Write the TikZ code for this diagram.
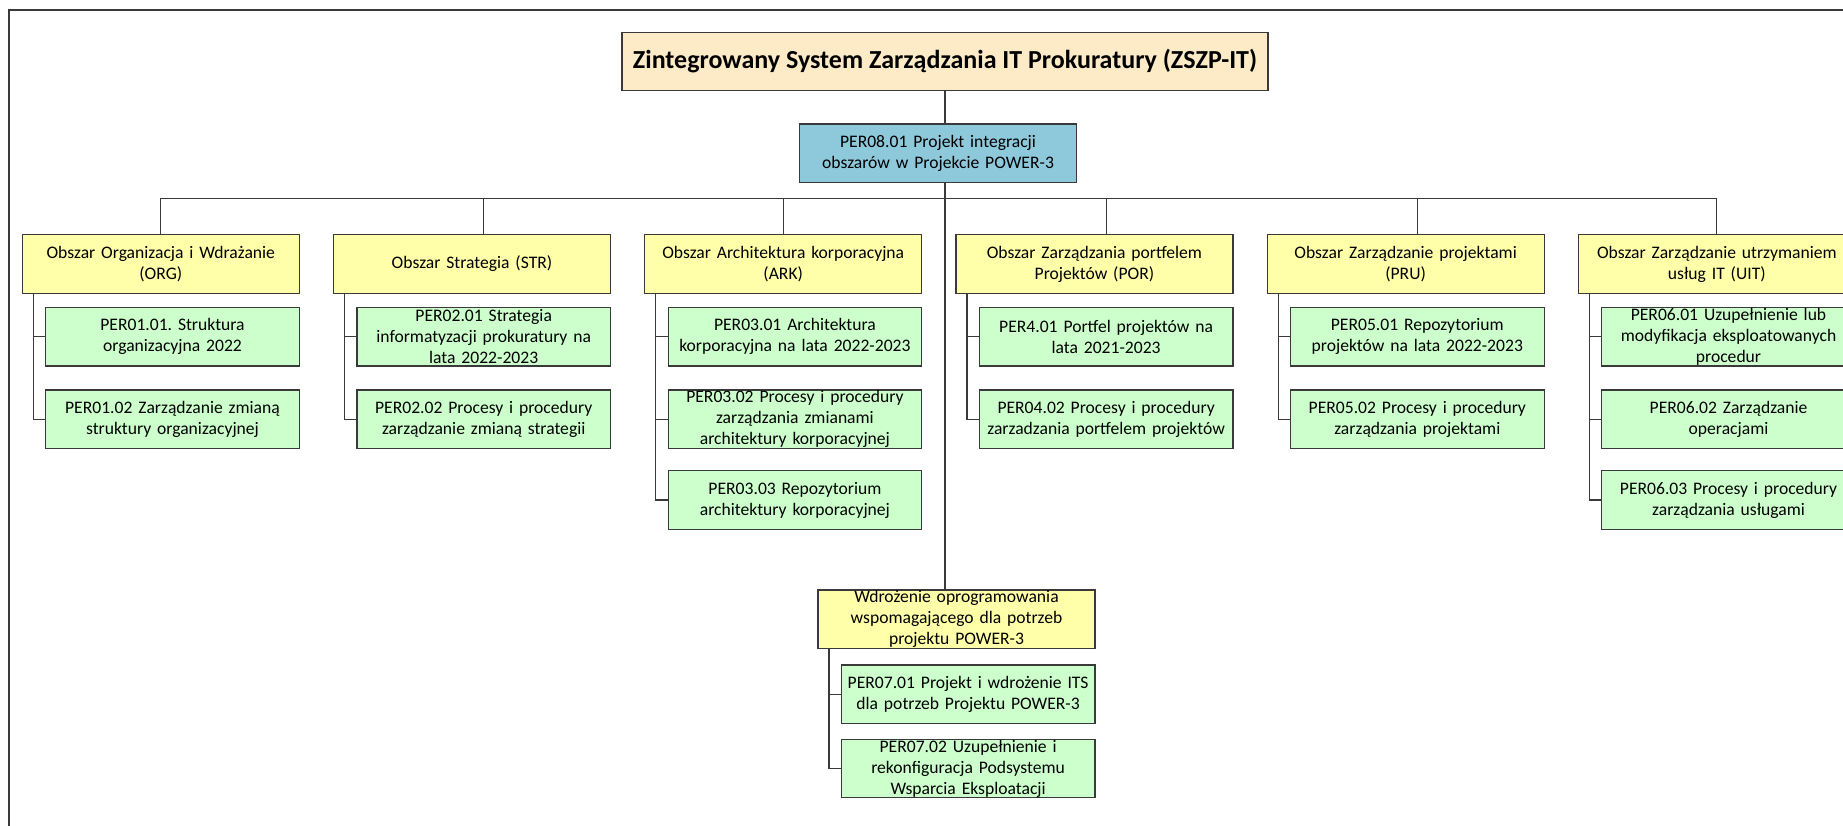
\documentclass[tikz,border=0pt]{standalone}
\usepackage{fontspec}
\setmainfont{Carlito}
\usetikzlibrary{calc}
\definecolor{titlefill}{HTML}{FDEBC8}
\definecolor{headfill}{HTML}{8DC8DB}
\definecolor{areafill}{HTML}{FFFFAA}
\definecolor{taskfill}{HTML}{CCFFCC}
\definecolor{edge}{HTML}{3A3A3A}
\frenchspacing
\begin{document}
\begin{tikzpicture}[x=1pt,y=-1pt,
  box/.style={draw=edge, line width=1.2pt, inner sep=0pt, align=center,
    font=\fontsize{17.6}{21}\selectfont},
  area/.style={box, fill=areafill, minimum width=277pt, minimum height=58.6pt, text width=275pt},
  task/.style={box, fill=taskfill, minimum width=253.6pt, minimum height=58.4pt, text width=252pt},
  link/.style={draw=edge, line width=1.2pt},
]
\useasboundingbox (0,0) rectangle (1843,826);
\clip (0,0) rectangle (1843,826);
% outer frame
\draw[edge, line width=1.3pt] (8.9,10) rectangle (1900,900);

% top of the tree
\node[box, fill=titlefill, minimum width=646pt, minimum height=58.4pt,
  font=\fontsize{26}{30}\selectfont\bfseries] (title) at (945,61.5)
  {Zintegrowany System Zarządzania IT Prokuratury (ZSZP-IT)};
\node[box, fill=headfill, minimum width=276.7pt, minimum height=58.3pt, text width=274pt]
  (p81) at (938,153.2) {PER08.01 Projekt integracji\\obszarów w Projekcie POWER-3};

% areas
\node[area] (org) at (160.8,264)  {Obszar Organizacja i Wdrażanie\\(ORG)};
\node[area] (str) at (472.0,264)  {Obszar Strategia (STR)};
\node[area] (ark) at (783.2,264)  {Obszar Architektura korporacyjna\\(ARK)};
\node[area] (por) at (1094.4,264) {Obszar Zarządzania portfelem\\Projektów (POR)};
\node[area] (pru) at (1405.6,264) {Obszar Zarządzanie projektami\\(PRU)};
\node[area] (uit) at (1716.8,264) {Obszar Zarządzanie utrzymaniem\\usług IT (UIT)};

% tasks
\node[task] (g11) at (172.5,336.8) {PER01.01. Struktura\\organizacyjna 2022};
\node[task] (g12) at (172.5,419.1) {PER01.02 Zarządzanie zmianą\\struktury organizacyjnej};

\node[task] (g21) at (483.7,336.8) {PER02.01 Strategia\\informatyzacji prokuratury na\\lata 2022-2023};
\node[task] (g22) at (483.7,419.1) {PER02.02 Procesy i procedury\\zarządzanie zmianą strategii};

\node[task] (g31) at (794.9,336.8) {PER03.01 Architektura\\korporacyjna na lata 2022-2023};
\node[task] (g32) at (794.9,419.1) {PER03.02 Procesy i procedury\\zarządzania zmianami\\architektury korporacyjnej};
\node[task] (g33) at (794.9,500.0) {PER03.03 Repozytorium\\architektury korporacyjnej};

\node[task] (g41) at (1106.1,336.8) {PER4.01 Portfel projektów na\\lata 2021-2023};
\node[task] (g42) at (1106.1,419.1) {PER04.02 Procesy i procedury\\zarzadzania portfelem projektów};

\node[task] (g51) at (1417.3,336.8) {PER05.01 Repozytorium\\projektów na lata 2022-2023};
\node[task] (g52) at (1417.3,419.1) {PER05.02 Procesy i procedury\\zarządzania projektami};

\node[task] (g61) at (1728.5,336.8) {PER06.01 Uzupełnienie lub\\modyfikacja eksploatowanych\\procedur};
\node[task] (g62) at (1728.5,419.1) {PER06.02 Zarządzanie\\operacjami};
\node[task] (g63) at (1728.5,500.0) {PER06.03 Procesy i procedury\\zarządzania usługami};

% software branch
\node[area] (wd) at (956.5,619.2) {Wdrożenie oprogramowania\\wspomagającego dla potrzeb\\projektu POWER-3};
\node[task] (g71) at (968.1,694.2) {PER07.01 Projekt i wdrożenie ITS\\dla potrzeb Projektu POWER-3};
\node[task] (g72) at (968.1,768.5) {PER07.02 Uzupełnienie i\\rekonfiguracja Podsystemu\\Wsparcia Eksploatacji};

% main spine and bus
\coordinate (bus) at (945,198.7);
\draw[link] (title.south) -- (title.south |- p81.north);
\draw[link] (p81.south -| title.south) -- (wd.north -| title.south);
\draw[link] (org.north) |- (bus) -| (uit.north);
\draw[link] (bus -| g21) -- (str.north -| g21);
\draw[link] (bus -| ark) -- (ark.north);
\draw[link] (bus -| g41) -- (por.north -| g41);
\draw[link] (bus -| g51) -- (pru.north -| g51);

% area trunks
\foreach \a/\first/\last in {org/g11/g12, str/g21/g22, ark/g31/g33, por/g41/g42, pru/g51/g52, uit/g61/g63, wd/g71/g72}{
  \coordinate (trunk) at ([xshift=11.6pt]\a.south west);
  \draw[link] (trunk) |- (\last.west);
  \draw[link] (trunk |- \first.west) -- (\first.west);
}
\draw[link] ([xshift=11.6pt]ark.south west |- g32.west) -- (g32.west);
\draw[link] ([xshift=11.6pt]uit.south west |- g62.west) -- (g62.west);
\end{tikzpicture}
\end{document}
